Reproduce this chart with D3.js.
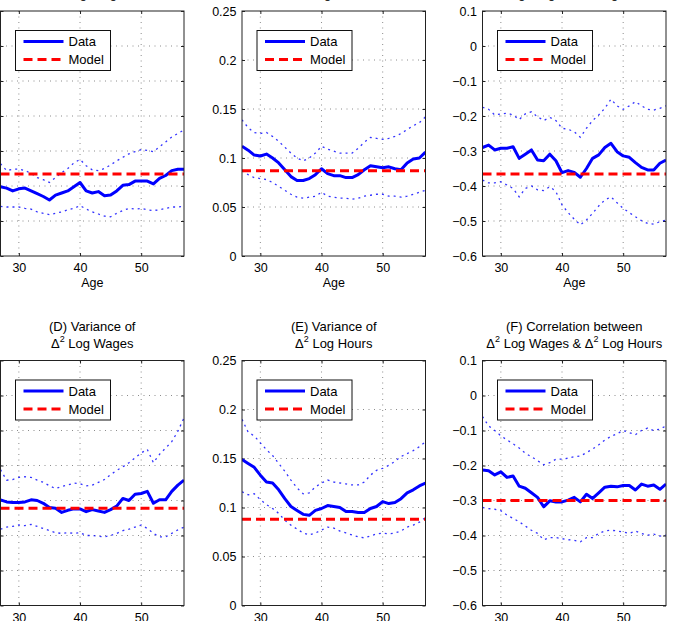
<!DOCTYPE html>
<meta charset="utf-8">
<script src="https://cdn.jsdelivr.net/npm/d3@7"></script>
<style>
  body { margin: 0; background: #fff; }
  svg { display: block; }
  text { font-family: "Liberation Sans", Arial, Helvetica, sans-serif; fill: #000; }
</style>
<div id="chart"></div>
<script>

// ages on the x axis
const ages = [27, 28, 29, 30, 31, 32, 33, 34, 35, 36, 37, 38, 39, 40, 41, 42,
  43, 44, 45, 46, 47, 48, 49, 50, 51, 52, 53, 54, 55, 56, 57];
const xTicks = [30, 40, 50];

// y tick values
const varTicks = [0, 0.05, 0.1, 0.15, 0.2, 0.25, 0.3, 0.35];
const hoursTicks = [0, 0.05, 0.1, 0.15, 0.2, 0.25];
const corrTicks = [-0.6, -0.5, -0.4, -0.3, -0.2, -0.1, 0, 0.1];

// (A) variance of delta log wages
const aData = [0.099, 0.097, 0.093, 0.096, 0.097, 0.093, 0.089, 0.085, 0.080, 0.087, 0.090, 0.093, 0.099, 0.105, 0.093, 0.090,
  0.092, 0.086, 0.087, 0.093, 0.101, 0.102, 0.107, 0.107, 0.107, 0.103, 0.111, 0.115, 0.122, 0.124, 0.124];
const aUpper = [0.132, 0.122, 0.124, 0.124, 0.122, 0.118, 0.112, 0.109, 0.105, 0.112, 0.119, 0.125, 0.133, 0.138, 0.129, 0.123,
  0.122, 0.125, 0.130, 0.136, 0.141, 0.146, 0.149, 0.152, 0.151, 0.149, 0.156, 0.163, 0.170, 0.175, 0.180];
const aLower = [0.071, 0.070, 0.070, 0.070, 0.068, 0.067, 0.063, 0.061, 0.059, 0.061, 0.063, 0.066, 0.068, 0.072, 0.067, 0.063,
  0.060, 0.057, 0.056, 0.061, 0.065, 0.068, 0.067, 0.068, 0.066, 0.065, 0.066, 0.068, 0.070, 0.070, 0.071];
const aModel = 0.117;

// (B) variance of delta log hours
const bData = [0.112, 0.108, 0.103, 0.102, 0.104, 0.100, 0.095, 0.088, 0.081, 0.077, 0.077, 0.079, 0.083, 0.089, 0.084, 0.082,
  0.082, 0.080, 0.080, 0.083, 0.088, 0.092, 0.091, 0.090, 0.091, 0.089, 0.088, 0.095, 0.099, 0.100, 0.106];
const bUpper = [0.139, 0.131, 0.126, 0.125, 0.126, 0.122, 0.117, 0.111, 0.105, 0.100, 0.097, 0.100, 0.105, 0.112, 0.109, 0.107,
  0.105, 0.105, 0.105, 0.110, 0.116, 0.121, 0.120, 0.119, 0.120, 0.122, 0.125, 0.129, 0.133, 0.136, 0.142];
const bLower = [0.087, 0.083, 0.080, 0.079, 0.078, 0.075, 0.071, 0.067, 0.063, 0.060, 0.059, 0.060, 0.061, 0.065, 0.061, 0.060,
  0.059, 0.059, 0.058, 0.059, 0.061, 0.062, 0.063, 0.063, 0.061, 0.061, 0.060, 0.061, 0.063, 0.065, 0.067];
const bModel = 0.087;

// (C) correlation between delta log wages and delta log hours
const cData = [-0.290, -0.283, -0.297, -0.292, -0.292, -0.288, -0.321, -0.309, -0.297, -0.326, -0.328, -0.309, -0.328, -0.362, -0.356, -0.361,
  -0.375, -0.350, -0.321, -0.311, -0.290, -0.278, -0.302, -0.314, -0.318, -0.333, -0.347, -0.354, -0.354, -0.335, -0.326];
const cUpper = [-0.175, -0.181, -0.197, -0.194, -0.192, -0.197, -0.210, -0.194, -0.188, -0.202, -0.213, -0.204, -0.213, -0.235, -0.238, -0.245,
  -0.261, -0.235, -0.213, -0.197, -0.178, -0.152, -0.171, -0.181, -0.171, -0.159, -0.171, -0.181, -0.183, -0.178, -0.171];
const cLower = [-0.383, -0.391, -0.391, -0.388, -0.397, -0.407, -0.431, -0.407, -0.400, -0.411, -0.413, -0.402, -0.416, -0.454, -0.476, -0.495,
  -0.511, -0.497, -0.478, -0.457, -0.440, -0.431, -0.448, -0.464, -0.476, -0.488, -0.499, -0.507, -0.509, -0.502, -0.497];
const cModel = -0.366;

// (D) variance of delta^2 log wages
const dData = [0.151, 0.148, 0.147, 0.147, 0.148, 0.151, 0.150, 0.146, 0.140, 0.139, 0.133, 0.136, 0.138, 0.138, 0.134, 0.137,
  0.135, 0.133, 0.137, 0.142, 0.153, 0.150, 0.159, 0.160, 0.163, 0.146, 0.151, 0.151, 0.163, 0.172, 0.179];
const dUpper = [0.194, 0.179, 0.180, 0.183, 0.184, 0.183, 0.179, 0.176, 0.171, 0.167, 0.170, 0.172, 0.175, 0.174, 0.171, 0.172,
  0.176, 0.180, 0.187, 0.193, 0.198, 0.204, 0.211, 0.218, 0.223, 0.204, 0.216, 0.225, 0.234, 0.249, 0.268];
const dLower = [0.109, 0.112, 0.113, 0.115, 0.114, 0.116, 0.113, 0.110, 0.107, 0.104, 0.103, 0.104, 0.103, 0.104, 0.100, 0.100,
  0.099, 0.098, 0.100, 0.103, 0.107, 0.109, 0.112, 0.115, 0.110, 0.103, 0.098, 0.098, 0.103, 0.108, 0.112];
const dModel = 0.139;

// (E) variance of delta^2 log hours
const eData = [0.149, 0.145, 0.141, 0.133, 0.126, 0.125, 0.118, 0.109, 0.101, 0.097, 0.093, 0.092, 0.097, 0.099, 0.102, 0.101,
  0.100, 0.096, 0.096, 0.095, 0.095, 0.099, 0.101, 0.106, 0.104, 0.105, 0.109, 0.115, 0.118, 0.122, 0.125];
const eUpper = [0.190, 0.177, 0.173, 0.166, 0.159, 0.153, 0.145, 0.137, 0.128, 0.120, 0.114, 0.115, 0.121, 0.125, 0.128, 0.126,
  0.125, 0.124, 0.123, 0.123, 0.126, 0.133, 0.138, 0.140, 0.143, 0.147, 0.152, 0.155, 0.158, 0.162, 0.167];
const eLower = [0.116, 0.113, 0.114, 0.108, 0.103, 0.099, 0.094, 0.087, 0.082, 0.078, 0.074, 0.072, 0.074, 0.077, 0.080, 0.079,
  0.076, 0.074, 0.072, 0.070, 0.069, 0.071, 0.073, 0.074, 0.073, 0.074, 0.076, 0.080, 0.082, 0.085, 0.090];
const eModel = 0.088;

// (F) correlation between delta^2 log wages and delta^2 log hours
const fData = [-0.213, -0.215, -0.227, -0.218, -0.234, -0.230, -0.259, -0.265, -0.278, -0.291, -0.318, -0.301, -0.304, -0.304, -0.299, -0.291,
  -0.304, -0.282, -0.294, -0.278, -0.262, -0.259, -0.261, -0.257, -0.257, -0.270, -0.253, -0.259, -0.256, -0.268, -0.253];
const fUpper = [-0.060, -0.087, -0.100, -0.115, -0.127, -0.138, -0.150, -0.165, -0.175, -0.186, -0.198, -0.192, -0.182, -0.182, -0.179, -0.175,
  -0.173, -0.163, -0.153, -0.141, -0.127, -0.117, -0.109, -0.100, -0.106, -0.112, -0.100, -0.093, -0.100, -0.096, -0.087];
const fLower = [-0.320, -0.323, -0.325, -0.329, -0.342, -0.351, -0.361, -0.373, -0.385, -0.394, -0.412, -0.406, -0.406, -0.409, -0.412, -0.414,
  -0.418, -0.406, -0.406, -0.394, -0.387, -0.385, -0.387, -0.390, -0.394, -0.387, -0.394, -0.399, -0.396, -0.402, -0.399];
const fModel = -0.300;

// layout of the 2x3 grid (the figure is cropped at the left and top edge)
const colX = [0.5, 242, 482.5];
const rowY = [11, 360.5];
const plotW = 183.5, plotH = 245;

const panels = [
  { title: ["(A) Variance of", "Δ Log Wages"], data: aData, upper: aUpper, lower: aLower, model: aModel, ticks: varTicks, col: 0, row: 0 },
  { title: ["(B) Variance of", "Δ Log Hours"], data: bData, upper: bUpper, lower: bLower, model: bModel, ticks: hoursTicks, col: 1, row: 0 },
  { title: ["(C) Correlation between", "Δ Log Wages & Δ Log Hours"], data: cData, upper: cUpper, lower: cLower, model: cModel, ticks: corrTicks, col: 2, row: 0 },
  { title: ["(D) Variance of", "Δ^2 Log Wages"], data: dData, upper: dUpper, lower: dLower, model: dModel, ticks: varTicks, col: 0, row: 1 },
  { title: ["(E) Variance of", "Δ^2 Log Hours"], data: eData, upper: eUpper, lower: eLower, model: eModel, ticks: hoursTicks, col: 1, row: 1 },
  { title: ["(F) Correlation between", "Δ^2 Log Wages & Δ^2 Log Hours"], data: fData, upper: fUpper, lower: fLower, model: fModel, ticks: corrTicks, col: 2, row: 1 }
];

const svg = d3.select("#chart")
  .append("svg")
  .attr("width", 674)
  .attr("height", 621);

const fmt = d3.format("~g");

panels.forEach(function (p, i) {
  const g = svg.append("g")
    .attr("transform", `translate(${colX[p.col]}, ${rowY[p.row]})`);

  const x = d3.scaleLinear().domain([27, 57]).range([0, plotW]);
  const y = d3.scaleLinear().domain(d3.extent(p.ticks)).range([plotH, 0]);

  // dotted grid
  g.append("g").selectAll("line")
    .data(p.ticks.slice(1, -1))
    .join("line")
    .attr("x1", 0).attr("x2", plotW)
    .attr("y1", d => y(d)).attr("y2", d => y(d))
    .attr("stroke", "#6f6f6f").attr("stroke-width", 0.8)
    .attr("stroke-dasharray", "1,4.5");
  g.append("g").selectAll("line")
    .data(xTicks)
    .join("line")
    .attr("x1", d => x(d)).attr("x2", d => x(d))
    .attr("y1", 0).attr("y2", plotH)
    .attr("stroke", "#6f6f6f").attr("stroke-width", 0.8)
    .attr("stroke-dasharray", "1,4.5");

  // axes, ticks pointing inward (left column labels fall outside the cropped picture)
  const yAx = g.append("g")
    .call(d3.axisLeft(y).tickValues(p.ticks).tickSize(-3).tickPadding(5.5).tickFormat(fmt));
  if (p.col === 0) yAx.selectAll("text").remove();
  g.append("g")
    .attr("transform", `translate(0, ${plotH})`)
    .call(d3.axisBottom(x).tickValues(xTicks).tickSize(-3).tickPadding(7.5));
  g.append("g")
    .attr("transform", `translate(${plotW}, 0)`)
    .call(d3.axisRight(y).tickValues(p.ticks).tickSize(-3).tickFormat(""))
    .selectAll("text").remove();
  g.append("g")
    .call(d3.axisTop(x).tickValues(xTicks).tickSize(-3).tickFormat(""))
    .selectAll("text").remove();
  g.selectAll(".domain").remove();
  g.selectAll(".tick line").attr("stroke", "#222");
  g.selectAll(".tick text").style("font-size", "12.5px").attr("fill", "#000");

  if (p.row === 0) {
    g.append("text")
      .attr("x", plotW / 2).attr("y", plotH + 30.5)
      .attr("text-anchor", "middle")
      .style("font-size", "12.5px")
      .text("Age");
  }

  // title, two lines (top row only shows the bottom of its second line)
  if (p.row === 1) {
    g.append("text")
      .attr("x", plotW / 2).attr("y", -30)
      .attr("text-anchor", "middle")
      .style("font-size", "13px")
      .text(p.title[0]);
  }
  const line2 = g.append("text")
    .attr("x", plotW / 2).attr("y", -13)
    .attr("text-anchor", "middle")
    .style("font-size", "13px");
  let shift = 0;
  p.title[1].split(/(\^2)/).forEach(function (part) {
    if (part === "^2") {
      line2.append("tspan").attr("dy", -6).style("font-size", "9px").text("2");
      shift = 6;
    } else if (part) {
      line2.append("tspan").attr("dy", shift).text(part);
      shift = 0;
    }
  });

  // clip the series to the plot box
  const clipId = "clip" + i;
  g.append("clipPath").attr("id", clipId)
    .append("rect").attr("width", plotW).attr("height", plotH);
  const lines = g.append("g").attr("clip-path", `url(#${clipId})`);

  const line = d3.line()
    .x((d, j) => x(ages[j]))
    .y(d => y(d));

  [p.upper, p.lower].forEach(function (band) {
    lines.append("path")
      .datum(band)
      .attr("d", line)
      .attr("fill", "none")
      .attr("stroke", "#0000ff")
      .attr("stroke-opacity", 0.8)
      .attr("stroke-width", 1.3)
      .attr("stroke-dasharray", "2,4");
  });

  lines.append("path")
    .datum(p.data)
    .attr("d", line)
    .attr("fill", "none")
    .attr("stroke", "#0000ff")
    .attr("stroke-width", 3)
    .attr("stroke-linejoin", "round");

  lines.append("line")
    .attr("x1", x(27)).attr("x2", x(57))
    .attr("y1", y(p.model)).attr("y2", y(p.model))
    .attr("stroke", "#ff0000")
    .attr("stroke-width", 3)
    .attr("stroke-dasharray", "9,5");

  // box
  g.append("rect")
    .attr("width", plotW).attr("height", plotH)
    .attr("fill", "none")
    .attr("stroke", "#222").attr("stroke-width", 1);

  // legend
  const lg = g.append("g").attr("transform", "translate(15, 19.5)");
  lg.append("rect")
    .attr("width", 95).attr("height", 40)
    .attr("fill", "#fff").attr("stroke", "#111").attr("stroke-width", 1);
  lg.append("line")
    .attr("x1", 8).attr("x2", 48).attr("y1", 11).attr("y2", 11)
    .attr("stroke", "#0000ff").attr("stroke-width", 3);
  lg.append("line")
    .attr("x1", 8).attr("x2", 48).attr("y1", 29).attr("y2", 29)
    .attr("stroke", "#ff0000").attr("stroke-width", 3)
    .attr("stroke-dasharray", "9,5");
  lg.append("text").attr("x", 53).attr("y", 15.5).style("font-size", "13px").text("Data");
  lg.append("text").attr("x", 53).attr("y", 33.5).style("font-size", "13px").text("Model");
});

</script>
